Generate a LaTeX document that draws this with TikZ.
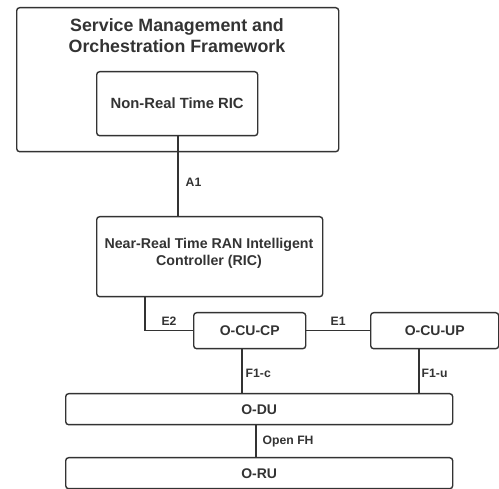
\documentclass[tikz,border=0pt]{standalone}
\usepackage{fontspec}
\setmainfont{Liberation Sans}
\definecolor{ink}{HTML}{333333}
\begin{document}
\begin{tikzpicture}[x=1pt,y=-1pt,
  box/.style={draw=ink, line width=1.4pt, rounded corners=3pt, anchor=north west, inner sep=0pt, text=ink, font=\bfseries\fontsize{14}{17}\selectfont, align=center},
  conn/.style={draw=ink, line width=1.4pt},
  txt/.style={text=ink, align=center, inner sep=0pt},
  lbl/.style={text=ink, font=\bfseries\fontsize{12.2}{14}\selectfont, inner sep=1pt}]
\useasboundingbox (0,0) rectangle (499,489);
% boxes
\node[box, minimum width=322pt, minimum height=144pt] (smo) at (16,7) {};
\node[txt, font=\bfseries\fontsize{17.8}{21}\selectfont] (smot) at (177,36) {Service Management and\\Orchestration Framework};
\node[box, minimum width=161pt, minimum height=64pt, font=\bfseries\fontsize{14.8}{18}\selectfont] (nonrt) at (96,71) {Non-Real Time RIC};
\node[box, minimum width=226pt, minimum height=80pt] (nearrt) at (96,216) {};
\node[txt, font=\bfseries\fontsize{14.2}{17}\selectfont] (nearrtt) at (209,253.5) {Near-Real Time RAN Intelligent\\Controller (RIC)};
\node[box, minimum width=112pt, minimum height=36pt] (cucp) at (193,312) {O-CU-CP};
\node[box, minimum width=128pt, minimum height=36pt] (cuup) at (370,312) {O-CU-UP};
\node[box, minimum width=387pt, minimum height=31pt] (odu) at (65,393) {O-DU};
\node[box, minimum width=387pt, minimum height=31pt] (oru) at (65,457) {O-RU};
% x positions of connectors
\coordinate (xa1) at (178,0);
\coordinate (xe2) at (145,0);
\coordinate (xf1c) at (242,0);
\coordinate (xf1u) at (419,0);
\coordinate (xfh) at (256,0);
% connectors
\draw[conn] (nonrt.south -| xa1) -- node[lbl, right=6pt, pos=0.58] {A1} (nearrt.north -| xa1);
\draw[conn] (nearrt.south -| xe2) |- node[lbl, pos=0.75, above=3pt] {E2} (cucp.west);
\draw[conn] (cucp.east) -- node[lbl, above=3pt] {E1} (cuup.west);
\draw[conn] (cucp.south -| xf1c) -- node[lbl, right=2pt, pos=0.55] {F1-c} (odu.north -| xf1c);
\draw[conn] (cuup.south -| xf1u) -- node[lbl, right=1pt, pos=0.55] {F1-u} (odu.north -| xf1u);
\draw[conn] (odu.south -| xfh) -- node[lbl, right=5pt, pos=0.5] {Open FH} (oru.north -| xfh);
\end{tikzpicture}
\end{document}
